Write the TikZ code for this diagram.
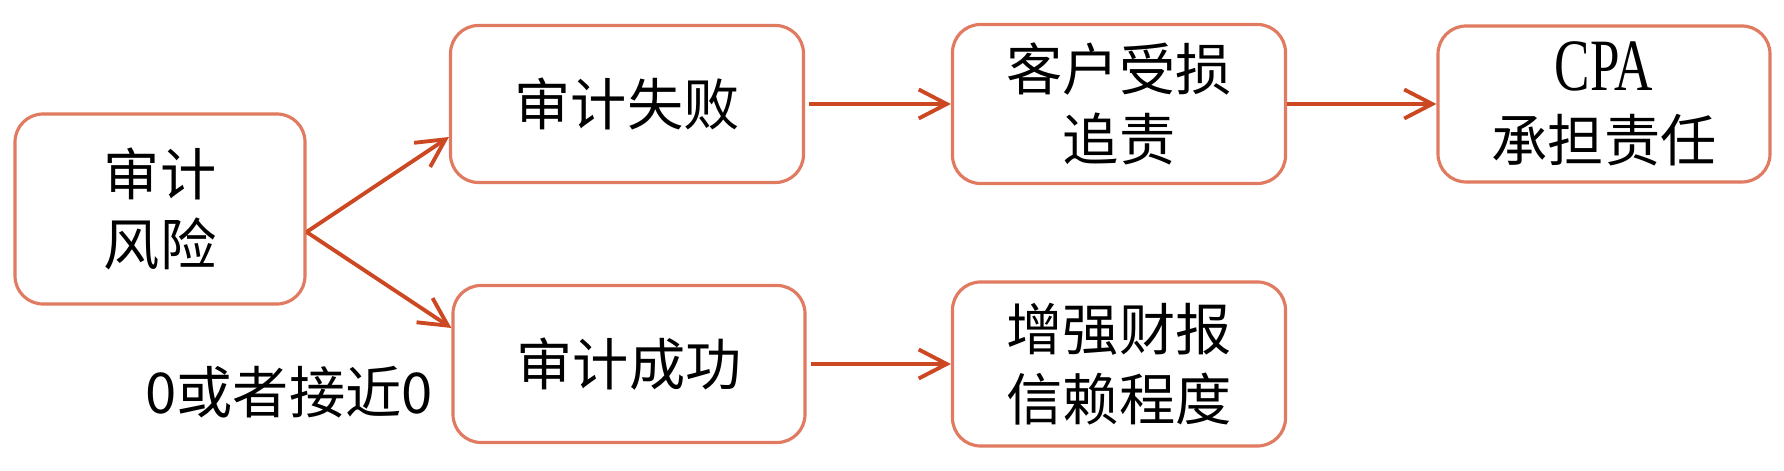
\documentclass[tikz,border=0pt]{standalone}
\usepackage{fontspec}
\newfontfamily\cjk{Noto Sans CJK SC}
\newfontfamily\latinfont[FakeStretch=0.72]{Liberation Serif}
\usetikzlibrary{calc,arrows.meta}
\definecolor{boxline}{RGB}{224,122,96}
\definecolor{arrowline}{RGB}{204,72,34}

\begin{document}
\begin{tikzpicture}[
		stepbox/.style={draw=boxline, line width=0.9pt, rounded corners=0.28cm, align=center, inner sep=0pt, font=\cjk\fontsize{16}{20}\selectfont},
		flow/.style={draw=arrowline, line width=1.1pt, -{Straight Barb[length=2.8mm,width=2.9mm]}}]
		%%%%% START %%%%%
		
		\useasboundingbox (0, 0) rectangle (17.84, 4.71);
		
		\node[stepbox, minimum width=2.9cm, minimum height=1.9cm] (risk) at (1.6, 2.62) {审计\\风险};
		
		\node[stepbox, minimum width=3.53cm, minimum height=1.57cm] (fail) at (6.27, 3.67) {审计失败};
		\node[stepbox, minimum width=3.52cm, minimum height=1.57cm] (success) at (6.29, 1.07) {审计成功};
		
		\node[stepbox, minimum width=3.33cm, minimum height=1.59cm] (loss) at (11.19, 3.67) {客户受损\\追责};
		\node[stepbox, minimum width=3.33cm, minimum height=1.64cm] (trust) at (11.19, 1.07) {增强财报\\信赖程度};
		
		\node[stepbox, minimum width=3.32cm, minimum height=1.56cm] (cpa) at (16.04, 3.67) {{\latinfont\fontsize{21}{20}\selectfont CPA}\\承担责任};
		
		\node[anchor=east, inner sep=0pt, font=\cjk\fontsize{16}{20}\selectfont] (zero) at ($(success.west)+(-0.18, -0.28)$) {0或者接近0};
		
		\coordinate (fork) at ($(risk.east)+(0, -0.23)$);
		\draw[flow] (fork) -- ($(fail.west)+(0, -0.33)$);
		\draw[flow] (fork) -- ($(success.west)+(0, 0.36)$);
		
		\draw[flow, shorten <=0.04cm] (fail) -- (loss);
		\draw[flow, shorten <=0.04cm] (success) -- (trust);
		\draw[flow] (loss) -- (cpa);
		
		%%%%% END %%%%%
\end{tikzpicture}
\end{document}
